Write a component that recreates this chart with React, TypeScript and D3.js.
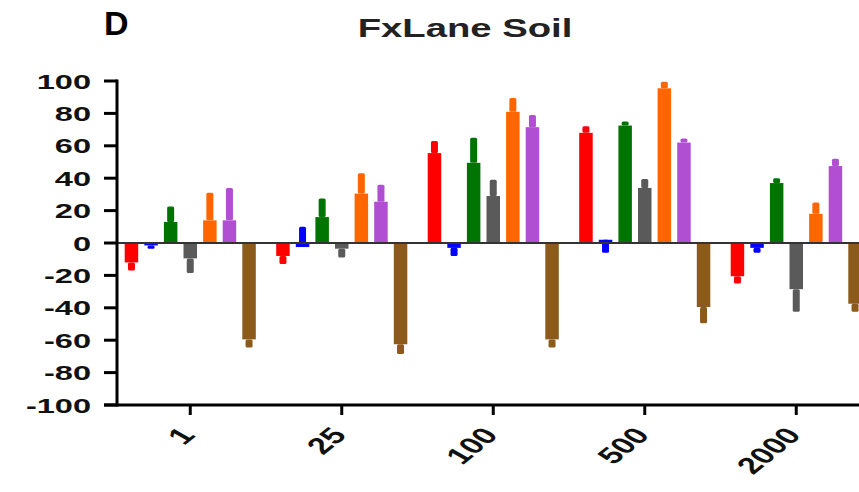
import React from "react";
import * as d3 from "d3";

// ---- data ----
const categories = ["1", "25", "100", "500", "2000"];
const seriesNames = ["S1", "S2", "S3", "S4", "S5", "S6", "S7"];
const seriesColors = ["#ff0000", "#0000ff", "#007400", "#5a5a5a", "#ff6600", "#b04fd2", "#8c5a1a"];

// bar means per category
const s1 = [-12, -8, 55.5, 68, -20.5];
const s2 = [-1.5, -2.5, -3, 2, -3];
const s3 = [13, 16, 49.5, 72.5, 37];
const s4 = [-9.5, -3.5, 29, 34, -28.5];
const s5 = [14, 30.5, 81, 95.5, 18];
const s6 = [14, 25.5, 71.5, 62, 47.5];
const s7 = [-59.5, -62.5, -59.5, -39.5, -37.5];

// end value of each error bar
const s1Err = [-17, -13, 63, 72, -25];
const s2Err = [-3.5, 10, -8, -6, -6];
const s3Err = [22.5, 27.5, 65, 75, 40];
const s4Err = [-18.5, -9, 39, 39.5, -42.5];
const s5Err = [31, 43, 89.5, 99.5, 25];
const s6Err = [34, 36, 79, 64.5, 52];
const s7Err = [-64.5, -68.5, -64.5, -49.5, -42.5];

const yTicks = [100, 80, 60, 40, 20, 0, -20, -40, -60, -80, -100];
const title = "FxLane Soil";
const panelLabel = "D";

const means = [s1, s2, s3, s4, s5, s6, s7];
const errs = [s1Err, s2Err, s3Err, s4Err, s5Err, s6Err, s7Err];

export default function App() {
  const W = 859;
  const H = 492;
  const axisX = 117;
  const axisBottom = 405;

  const y = d3.scaleLinear().domain([-100, 100]).range([405, 81]);
  const x = d3
    .scaleBand<string>()
    .domain(categories)
    .range([114.5, 114.5 + 151.5 * categories.length])
    .padding(0);
  const xs = d3.scalePoint<string>().domain(seriesNames).range([-58.8, 58.8]);
  const barW = 13.5;
  const errW = 7;
  const font = "'Liberation Sans', Arial, Helvetica, sans-serif";

  const bars: React.ReactNode[] = [];
  categories.forEach((c, ci) => {
    seriesNames.forEach((s, si) => {
      const cx = (x(c) as number) + x.bandwidth() / 2 + (xs(s) as number);
      const m = means[si][ci];
      const e = errs[si][ci];
      const ey0 = Math.min(y(m), y(e));
      const ey1 = Math.max(y(m), y(e));
      bars.push(
        <rect
          key={`e-${ci}-${si}`}
          x={cx - errW / 2}
          y={ey0}
          width={errW}
          height={ey1 - ey0}
          rx={1.5}
          fill={seriesColors[si]}
        />
      );
      const by0 = Math.min(y(0), y(m));
      const by1 = Math.max(y(0), y(m));
      bars.push(
        <rect
          key={`b-${ci}-${si}`}
          x={cx - barW / 2}
          y={by0}
          width={barW}
          height={Math.max(by1 - by0, 0.5)}
          fill={seriesColors[si]}
        />
      );
    });
  });

  return (
    <svg
      width={W}
      height={H}
      style={{ position: "absolute", left: 0, top: 0, background: "#fff", overflow: "hidden" }}
    >
      <rect x={0} y={0} width={W} height={H} fill="#fff" />
      <text x={104} y={35} fontFamily={font} fontWeight="bold" fontSize={34} fill="#000">
        {panelLabel}
      </text>
      <text
        transform={`translate(465,36.5) scale(1.5,1)`}
        textAnchor="middle"
        fontFamily={font}
        fontWeight="bold"
        fontSize={25.5}
        fill="#222"
      >
        {title}
      </text>

      {bars}

      {/* zero line */}
      <line x1={axisX} x2={W} y1={y(0)} y2={y(0)} stroke="#333" strokeWidth={2} />

      {/* y axis */}
      <line x1={axisX} x2={axisX} y1={y(100) - 1.5} y2={axisBottom + 1.5} stroke="#000" strokeWidth={3} />
      {yTicks.map((t) => (
        <g key={`yt-${t}`}>
          <line x1={104} x2={axisX} y1={y(t)} y2={y(t)} stroke="#000" strokeWidth={3} />
          <text
            transform={`translate(91,${y(t)}) scale(1.55,1)`}
            dy="0.36em"
            textAnchor="end"
            fontFamily={font}
            fontWeight="bold"
            fontSize={21}
            fill="#111"
          >
            {t}
          </text>
        </g>
      ))}

      {/* x axis */}
      <line x1={104} x2={W} y1={axisBottom} y2={axisBottom} stroke="#000" strokeWidth={3} />
      {categories.map((c) => {
        const cx = (x(c) as number) + x.bandwidth() / 2;
        return (
          <g key={`xt-${c}`}>
            <line x1={cx} x2={cx} y1={axisBottom} y2={axisBottom + 10} stroke="#000" strokeWidth={3} />
            <text
              transform={`translate(${cx + 6},436) scale(1.5,1) rotate(-50)`}
              textAnchor="end"
              fontFamily={font}
              fontWeight="bold"
              fontSize={23}
              fill="#111"
            >
              {c}
            </text>
          </g>
        );
      })}
    </svg>
  );
}
